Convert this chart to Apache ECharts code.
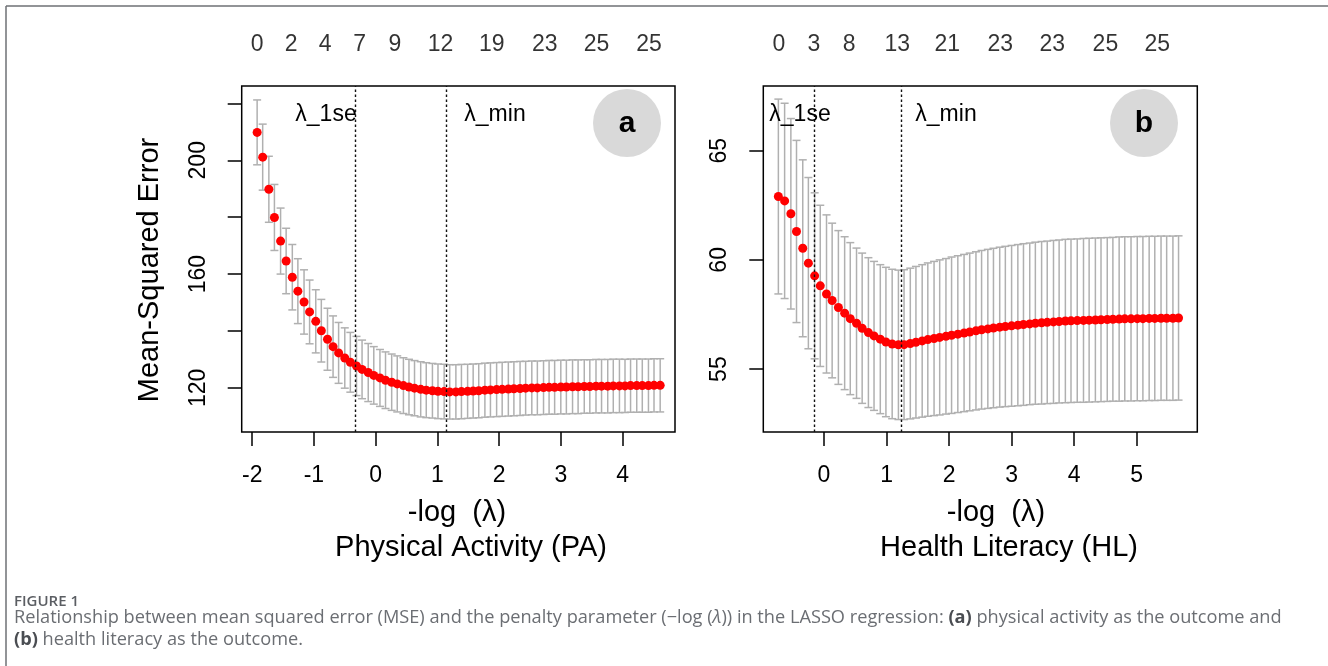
<!DOCTYPE html>
<html><head><meta charset="utf-8">
<script src="https://cdn.jsdelivr.net/npm/echarts@6/dist/echarts.min.js"></script>
<style>html,body{margin:0;padding:0;background:#fff;} #c{width:1328px;height:666px;}</style>
</head><body><div id="c"></div>
<script>
// ---------- Panel a: Physical Activity (PA) ----------
const xA = [-1.92,-1.83,-1.73,-1.64,-1.54,-1.45,-1.35,-1.26,-1.16,-1.07,-0.97,-0.88,-0.78,-0.69,-0.60,-0.50,-0.41,-0.31,-0.22,-0.12,
 -0.03,0.07,0.16,0.26,0.35,0.45,0.54,0.63,0.73,0.82,0.92,1.01,1.11,1.20,1.30,1.39,1.49,1.58,1.67,1.77,
 1.86,1.96,2.05,2.15,2.24,2.34,2.43,2.53,2.62,2.72,2.81,2.90,3.00,3.09,3.19,3.28,3.38,3.47,3.57,3.66,
 3.76,3.85,3.95,4.04,4.13,4.23,4.32,4.42,4.51,4.61];
const mseA = [209.8,201.1,189.8,179.9,171.6,164.6,158.9,154.0,150.2,146.7,143.4,140.1,137.1,134.5,132.3,130.5,129.0,127.7,126.5,125.4,
 124.4,123.5,122.7,122.0,121.4,120.8,120.3,119.9,119.5,119.2,119.0,118.8,118.7,118.6,118.6,118.7,118.8,118.9,119.0,119.2,
 119.3,119.4,119.5,119.6,119.7,119.8,119.9,120.0,120.0,120.1,120.2,120.2,120.3,120.3,120.4,120.4,120.5,120.5,120.6,120.6,
 120.6,120.7,120.7,120.7,120.8,120.8,120.8,120.8,120.9,120.9];
const seA = [11.4,11.6,11.6,11.6,11.6,11.5,11.5,11.4,11.3,11.2,11.1,11.0,10.9,10.8,10.7,10.6,10.5,10.4,10.3,10.2,
 10.1,10.0,9.95,9.9,9.85,9.8,9.75,9.7,9.7,9.65,9.6,9.6,9.6,9.55,9.55,9.55,9.5,9.5,9.5,9.5,
 9.5,9.5,9.5,9.5,9.5,9.5,9.45,9.45,9.45,9.45,9.45,9.45,9.45,9.45,9.45,9.45,9.4,9.4,9.4,9.4,
 9.4,9.4,9.4,9.35,9.35,9.35,9.35,9.35,9.35,9.35];
const lam1seA = -0.33, lamMinA = 1.15;
const nzPosA = [-1.92,-1.37,-0.82,-0.26,0.31,1.05,1.88,2.74,3.58,4.43];
const nzLabA = ['0','2','4','7','9','12','19','23','25','25'];
const xTicksA = [-2,-1,0,1,2,3,4];
const yTicksA = [120,140,160,180,200,220];
const yLabelsA = [120,160,200];

// ---------- Panel b: Health Literacy (HL) ----------
const xB = [-0.73,-0.63,-0.53,-0.44,-0.34,-0.25,-0.15,-0.06,0.04,0.13,0.23,0.33,0.42,0.52,0.61,0.71,0.80,0.90,0.99,1.09,
 1.19,1.28,1.38,1.47,1.57,1.66,1.76,1.85,1.95,2.04,2.14,2.24,2.33,2.43,2.52,2.62,2.71,2.81,2.90,3.00,
 3.10,3.19,3.29,3.38,3.48,3.57,3.67,3.76,3.86,3.95,4.05,4.15,4.24,4.34,4.43,4.53,4.62,4.72,4.81,4.91,
 5.01,5.10,5.20,5.29,5.39,5.48,5.58,5.67];
const mseB = [62.90,62.70,62.11,61.30,60.53,59.85,59.27,58.81,58.44,58.14,57.82,57.56,57.31,57.10,56.87,56.67,56.52,56.37,56.24,56.15,
 56.11,56.12,56.17,56.23,56.29,56.35,56.40,56.45,56.50,56.55,56.60,56.65,56.70,56.75,56.80,56.84,56.88,56.92,56.95,56.98,
 57.01,57.04,57.07,57.10,57.12,57.14,57.16,57.18,57.20,57.21,57.22,57.23,57.24,57.25,57.26,57.27,57.28,57.29,57.30,57.30,
 57.31,57.31,57.32,57.32,57.33,57.33,57.33,57.34];
const seB = [4.46,4.47,4.36,4.17,4.05,3.92,3.80,3.69,3.62,3.54,3.52,3.50,3.48,3.44,3.44,3.43,3.41,3.41,3.42,3.42,
 3.42,3.43,3.45,3.47,3.49,3.51,3.53,3.55,3.56,3.58,3.59,3.60,3.61,3.62,3.63,3.64,3.65,3.66,3.67,3.68,
 3.69,3.70,3.70,3.71,3.72,3.72,3.73,3.73,3.74,3.74,3.74,3.75,3.75,3.75,3.75,3.75,3.75,3.76,3.76,3.76,
 3.76,3.76,3.76,3.76,3.76,3.76,3.76,3.76];
const lam1seB = -0.16, lamMinB = 1.24;
const nzPosB = [-0.72,-0.16,0.40,1.17,1.97,2.82,3.65,4.50,5.33];
const nzLabB = ['0','3','8','13','21','23','23','25','25'];
const xTicksB = [0,1,2,3,4,5];
const yTicksB = [55,60,65];
const yLabelsB = [55,60,65];

const FONT = 'Liberation Sans';
const chart = echarts.init(document.getElementById('c'), null, {renderer:'canvas'});

function errData(x, m, s){ return x.map((v,i)=>[v, m[i]-s[i], m[i]+s[i]]); }
function ptData(x, m){ return x.map((v,i)=>[v, m[i]]); }
function errRender(params, api){
  const x = api.value(0), lo = api.value(1), hi = api.value(2);
  const p1 = api.coord([x, hi]), p2 = api.coord([x, lo]);
  const w = 4;
  const st = {stroke:'#b0b0b0', lineWidth:1.5};
  return {type:'group', children:[
    {type:'line', shape:{x1:p1[0],y1:p1[1],x2:p2[0],y2:p2[1]}, style:st},
    {type:'line', shape:{x1:p1[0]-w,y1:p1[1],x2:p1[0]+w,y2:p1[1]}, style:st},
    {type:'line', shape:{x1:p2[0]-w,y1:p2[1],x2:p2[0]+w,y2:p2[1]}, style:st}
  ]};
}
function xAx(grid, min, max, ticks){
  return {type:'value', gridIndex:grid, min:min, max:max, position:'bottom',
    axisLine:{show:false, onZero:false}, splitLine:{show:false},
    axisTick:{show:true, customValues:ticks, length:14, lineStyle:{color:'#000', width:1.5}},
    axisLabel:{show:true, customValues:ticks, fontSize:23, color:'#000', margin:32, fontFamily:FONT}};
}
function yAx(grid, min, max, ticks, labels){
  return {type:'value', gridIndex:grid, min:min, max:max, position:'left',
    axisLine:{show:false, onZero:false}, splitLine:{show:false},
    axisTick:{show:true, customValues:ticks, length:14, lineStyle:{color:'#000', width:1.5}},
    axisLabel:{show:true, customValues:labels, fontSize:23, color:'#000', margin:32, rotate:90, fontFamily:FONT}};
}
function topX(grid, min, max){
  return {type:'value', gridIndex:grid, min:min, max:max, show:false};
}
function topY(grid){ return {type:'value', gridIndex:grid, min:0, max:1, show:false}; }

const gridBox = {show:true, borderColor:'#000', borderWidth:1.5, backgroundColor:'rgba(0,0,0,0)'};
const vline = (a,b)=>({symbol:'none', silent:true, animation:false,
  lineStyle:{type:[2.5,2.5], color:'#111', width:1.4}, label:{show:false},
  data:[{xAxis:a},{xAxis:b}]});
const T = (x,y,text,size,extra)=>Object.assign({type:'text', x:x, y:y, z:11, silent:true,
  style:{text:text, font:size+'px "Liberation Sans"', fill:'#000', align:'center', verticalAlign:'middle'}}, extra||{});

const option = {
  animation:false,
  backgroundColor:'#fff',
  grid:[
    Object.assign({left:241.7, top:86, width:433.3, height:346}, gridBox),
    Object.assign({left:763.3, top:86, width:434, height:346}, gridBox),
    {left:241.7, top:30, width:433.3, height:30},
    {left:763.3, top:30, width:434, height:30}
  ],
  xAxis:[xAx(0,-2.17,4.85,xTicksA), xAx(1,-0.971,5.97,xTicksB), topX(2,-2.17,4.85), topX(3,-0.971,5.97)],
  yAxis:[yAx(0,104.5,226.1,yTicksA,yLabelsA), yAx(1,52.12,67.96,yTicksB,yLabelsB), topY(2), topY(3)],
  series:[
    {type:'custom', xAxisIndex:0, yAxisIndex:0, renderItem:errRender, data:errData(xA,mseA,seA), z:2, silent:true},
    {type:'scatter', xAxisIndex:0, yAxisIndex:0, data:ptData(xA,mseA), symbolSize:9,
      itemStyle:{color:'#ff0000', opacity:1}, z:3, markLine:vline(lam1seA, lamMinA)},
    {type:'custom', xAxisIndex:1, yAxisIndex:1, renderItem:errRender, data:errData(xB,mseB,seB), z:2, silent:true},
    {type:'scatter', xAxisIndex:1, yAxisIndex:1, data:ptData(xB,mseB), symbolSize:9,
      itemStyle:{color:'#ff0000', opacity:1}, z:3, markLine:vline(lam1seB, lamMinB)},
    {type:'scatter', xAxisIndex:2, yAxisIndex:2, symbolSize:0, silent:true,
      data:nzPosA.map((v,i)=>({value:[v,0.5], label:{formatter:nzLabA[i]}})),
      label:{show:true, position:'inside', fontSize:23, color:'#000', fontFamily:FONT}},
    {type:'scatter', xAxisIndex:3, yAxisIndex:3, symbolSize:0, silent:true,
      data:nzPosB.map((v,i)=>({value:[v,0.5], label:{formatter:nzLabB[i]}})),
      label:{show:true, position:'inside', fontSize:23, color:'#000', fontFamily:FONT}}
  ],
  graphic:[
    {type:'line', shape:{x1:6,y1:6,x2:1328,y2:6}, style:{stroke:'#6e7175', lineWidth:1.5}, silent:true},
    {type:'line', shape:{x1:6,y1:6,x2:6,y2:666}, style:{stroke:'#6e7175', lineWidth:1.5}, silent:true},
    {type:'circle', shape:{cx:627, cy:123, r:34}, style:{fill:'#d9d9d9'}, z:10, silent:true},
    {type:'text', x:627, y:124, z:11, style:{text:'a', font:'bold 30px "Liberation Sans"', fill:'#000', align:'center', verticalAlign:'middle'}},
    {type:'circle', shape:{cx:1144, cy:123, r:34}, style:{fill:'#d9d9d9'}, z:10, silent:true},
    {type:'text', x:1144, y:124, z:11, style:{text:'b', font:'bold 30px "Liberation Sans"', fill:'#000', align:'center', verticalAlign:'middle'}},
    T(326,115,'λ_1se',23), T(495,115,'λ_min',23), T(800,115,'λ_1se',23), T(946,115,'λ_min',23),
    T(150,270,'Mean-Squared Error',29,{rotation:Math.PI/2}),
    T(457,513,'-log  (λ)',29), T(471,548,'Physical Activity (PA)',29),
    T(996,513,'-log  (λ)',29), T(1009,548,'Health Literacy (HL)',29),
    {type:'text', x:14, y:602, z:11, style:{text:'FIGURE 1', font:'600 15px "Open Sans"', fill:'#5b5e63', align:'left', verticalAlign:'middle'}},
    {type:'text', x:14, y:618, z:11, style:{
      text:'Relationship between mean squared error (MSE) and the penalty parameter (−log ({i|λ})) in the LASSO regression: {b|(a)} physical activity as the outcome and',
      font:'18.2px "Open Sans"', fill:'#6b6e73', align:'left', verticalAlign:'middle',
      rich:{b:{font:'bold 18.2px "Open Sans"', fill:'#4a4d52'}, i:{font:'italic 18.2px "Open Sans"', fill:'#6b6e73'}}}},
    {type:'text', x:14, y:640, z:11, style:{
      text:'{b|(b)} health literacy as the outcome.',
      font:'18.2px "Open Sans"', fill:'#6b6e73', align:'left', verticalAlign:'middle',
      rich:{b:{font:'bold 18.2px "Open Sans"', fill:'#4a4d52'}}}}
  ]
};
chart.setOption(option);
</script></body></html>
